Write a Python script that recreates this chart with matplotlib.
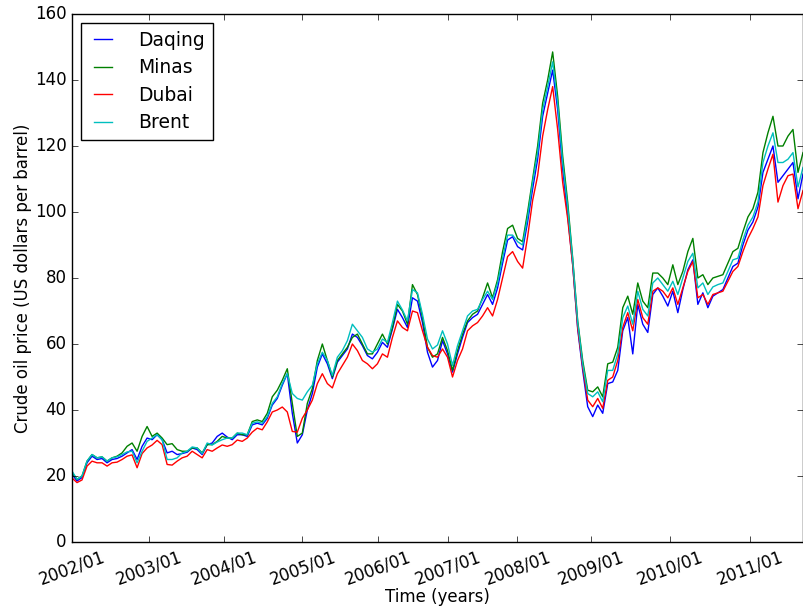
"""Daily crude oil spot prices 2002-2011: Daqing, Minas, Dubai, Brent."""
import numpy as np
import matplotlib
matplotlib.use("Agg")
import matplotlib.pyplot as plt

plt.style.use("classic")

# readings taken every ~16.6 trading days, starting 2002/01
STEP = 16.6
brent = [21.5, 19.0, 20.0, 24.5, 26.5, 25.5, 25.8, 24.5, 25.5, 25.8,
         26.5, 27.3, 27.5, 24.0, 27.5, 30.5, 31.5, 32.5, 31.0, 25.0,
         25.0, 25.5, 27.0, 27.5, 28.8, 28.5, 26.8, 30.0, 29.4, 30.3,
         31.0, 31.5, 31.5, 33.0, 33.0, 32.5, 36.0, 36.4, 36.0, 38.0,
         42.0, 44.0, 48.0, 51.0, 45.0, 43.5, 43.0, 45.5, 47.5, 54.0,
         57.5, 55.0, 50.5, 56.0, 58.0, 61.0, 66.0, 64.0, 62.0, 58.5,
         57.5, 58.5, 61.5, 60.5, 66.5, 73.0, 70.3, 67.0, 76.5, 75.5,
         69.0, 61.5, 58.5, 59.7, 64.0, 60.0, 53.5, 59.5, 64.0, 68.5,
         70.0, 70.5, 73.5, 76.0, 73.5, 78.5, 86.0, 93.0, 93.0, 91.0,
         90.0, 98.5, 109.0, 118.0, 131.0, 138.0, 145.5, 133.0, 115.0, 101.5,
         85.5, 66.5, 54.0, 45.0, 44.0, 45.5, 42.5, 52.0, 52.0, 57.0,
         68.0, 71.5, 66.0, 76.0, 70.5, 68.5, 78.5, 80.0, 78.0, 76.0,
         79.0, 75.0, 80.0, 85.0, 87.5, 77.0, 78.5, 75.0, 77.3, 78.0,
         78.5, 82.0, 85.5, 86.0, 91.5, 96.0, 98.5, 103.0, 115.0, 120.0,
         124.0, 115.0, 115.0, 116.0, 118.0, 107.6, 113.5]
minas = [21.0, 19.0, 20.0, 24.5, 26.5, 25.5, 25.8, 24.5, 25.5, 26.0,
         27.0, 29.0, 30.0, 27.5, 32.0, 35.0, 32.0, 33.0, 31.5, 29.5,
         29.8, 28.0, 27.5, 27.5, 28.5, 28.5, 27.0, 29.5, 29.5, 30.5,
         32.0, 31.5, 31.5, 33.0, 32.5, 32.5, 36.5, 37.0, 36.5, 39.0,
         44.0, 46.0, 49.0, 52.5, 42.0, 32.0, 33.0, 42.0, 46.5, 55.0,
         60.0, 55.0, 50.0, 55.0, 57.0, 59.0, 62.0, 63.0, 60.0, 57.0,
         57.0, 60.0, 63.0, 60.0, 65.0, 72.0, 70.0, 66.0, 78.0, 75.0,
         68.0, 59.0, 56.0, 57.0, 62.0, 58.0, 52.0, 58.0, 63.0, 67.0,
         69.0, 70.0, 74.0, 78.5, 74.0, 79.5, 88.0, 95.0, 96.0, 92.0,
         91.0, 100.0, 110.0, 120.0, 133.0, 140.0, 148.5, 135.0, 117.0, 103.0,
         86.0, 67.0, 55.0, 46.0, 45.5, 47.0, 44.0, 54.0, 54.5, 59.0,
         71.0, 74.5, 69.0, 78.5, 73.0, 71.0, 81.5, 81.5, 80.0, 78.0,
         84.0, 78.0, 82.0, 88.0, 92.0, 80.0, 81.0, 78.0, 80.0, 80.5,
         81.0, 84.5, 88.0, 89.0, 94.0, 98.5, 101.0, 106.0, 118.0, 124.0,
         129.0, 120.0, 120.0, 123.0, 125.0, 112.0, 118.0]
dubai = [19.4, 18.0, 18.8, 23.0, 24.5, 24.0, 24.0, 23.0, 24.0, 24.2,
         25.0, 26.0, 26.4, 22.5, 26.8, 28.5, 29.4, 30.8, 29.5, 23.5,
         23.3, 24.5, 25.5, 26.0, 27.5, 26.5, 25.5, 28.0, 27.5, 28.5,
         29.4, 29.0, 29.5, 30.9, 30.5, 31.5, 33.3, 34.5, 34.0, 36.4,
         39.4, 40.0, 40.9, 39.4, 33.5, 33.3, 37.5, 40.0, 43.0, 48.0,
         51.0, 48.0, 46.7, 51.0, 53.5, 56.0, 60.0, 58.0, 55.0, 54.0,
         52.5, 54.0, 57.0, 56.0, 62.0, 67.0, 65.0, 64.0, 70.0, 69.5,
         64.0, 59.0, 56.5, 56.0, 58.5, 56.0, 50.0, 55.0, 58.5, 64.0,
         65.5, 66.5, 68.5, 71.0, 68.5, 73.5, 80.0, 86.5, 88.0, 85.0,
         83.0, 92.5, 103.5, 111.0, 123.0, 131.0, 138.0, 125.0, 109.0, 98.0,
         84.0, 65.0, 53.0, 43.0, 41.0, 43.5, 40.5, 49.0, 50.0, 55.0,
         65.0, 69.5, 64.0, 73.5, 68.0, 66.0, 76.0, 77.0, 76.0, 74.0,
         77.0, 72.0, 77.0, 82.0, 85.0, 74.0, 75.0, 72.0, 75.0, 75.5,
         76.0, 79.0, 82.0, 83.5, 88.0, 92.0, 95.0, 98.5, 108.0, 113.0,
         117.5, 103.0, 108.0, 111.0, 111.5, 101.0, 106.5]
daqing = [20.5, 18.5, 19.5, 24.0, 26.0, 25.0, 25.3, 24.0, 25.0, 25.3,
          26.0, 27.0, 28.0, 25.0, 29.0, 31.5, 31.0, 32.5, 31.0, 27.0,
          27.5, 26.5, 26.8, 27.2, 28.5, 28.0, 26.5, 29.5, 30.0, 32.0,
          33.0, 31.8, 31.0, 32.5, 32.5, 32.0, 35.5, 36.0, 35.5, 37.5,
          41.5, 43.5, 47.5, 51.0, 39.0, 30.0, 32.5, 40.0, 45.0, 53.0,
          57.0, 54.0, 49.5, 54.5, 56.5, 58.5, 63.0, 62.0, 59.5, 56.5,
          55.5, 57.5, 60.5, 59.0, 64.5, 70.5, 68.0, 65.0, 74.0, 73.0,
          66.5, 57.5, 53.0, 55.0, 61.0, 57.0, 51.5, 57.0, 62.0, 66.5,
          68.0, 69.0, 72.0, 75.0, 72.0, 77.0, 84.5, 91.5, 92.5, 89.5,
          88.5, 97.0, 107.0, 116.0, 129.0, 136.0, 143.0, 131.0, 113.0, 99.0,
          84.0, 64.5, 52.0, 41.0, 38.0, 41.5, 39.0, 48.0, 48.5, 52.0,
          64.0, 68.0, 57.0, 72.0, 66.0, 63.5, 75.0, 77.0, 74.5, 71.5,
          76.0, 69.5, 76.5, 82.5, 85.5, 72.0, 75.5, 71.0, 74.5, 75.5,
          76.5, 80.0, 83.5, 84.5, 90.0, 94.5, 97.0, 101.5, 112.0, 116.0,
          120.0, 109.0, 111.0, 113.0, 115.0, 104.0, 111.5]

# trading-day index of the first day of each year
year_start = [0, 256, 505, 764, 1013, 1245, 1477, 1720, 1982, 2248]
year_labels = ["%d/01" % y for y in range(2002, 2012)]

day = np.arange(len(brent)) * STEP

fig = plt.figure(figsize=(8.04, 6.10), dpi=100, facecolor="w")
ax = fig.add_axes([72 / 804, 1 - 542 / 610, 731 / 804, 528 / 610])
ax.plot(day, daqing, "b", label="Daqing")
ax.plot(day, minas, "g", label="Minas")
ax.plot(day, dubai, "r", label="Dubai")
ax.plot(day, brent, "c", label="Brent")
ax.set_xlim(0, day[-1])
ax.set_ylim(0, 160)
ax.set_xticks(year_start)
ax.set_xticklabels(year_labels, rotation=20, ha="center")
ax.tick_params(axis="x", pad=4)
ax.set_xlabel("Time (years)", labelpad=0)
ax.set_ylabel("Crude oil price (US dollars per barrel)", labelpad=2)
ax.legend(loc="upper left", fontsize=13.5, handlelength=1.55,
          handletextpad=1.1, labelspacing=0.45)
fig.savefig("out.png", dpi=100, facecolor="w")
